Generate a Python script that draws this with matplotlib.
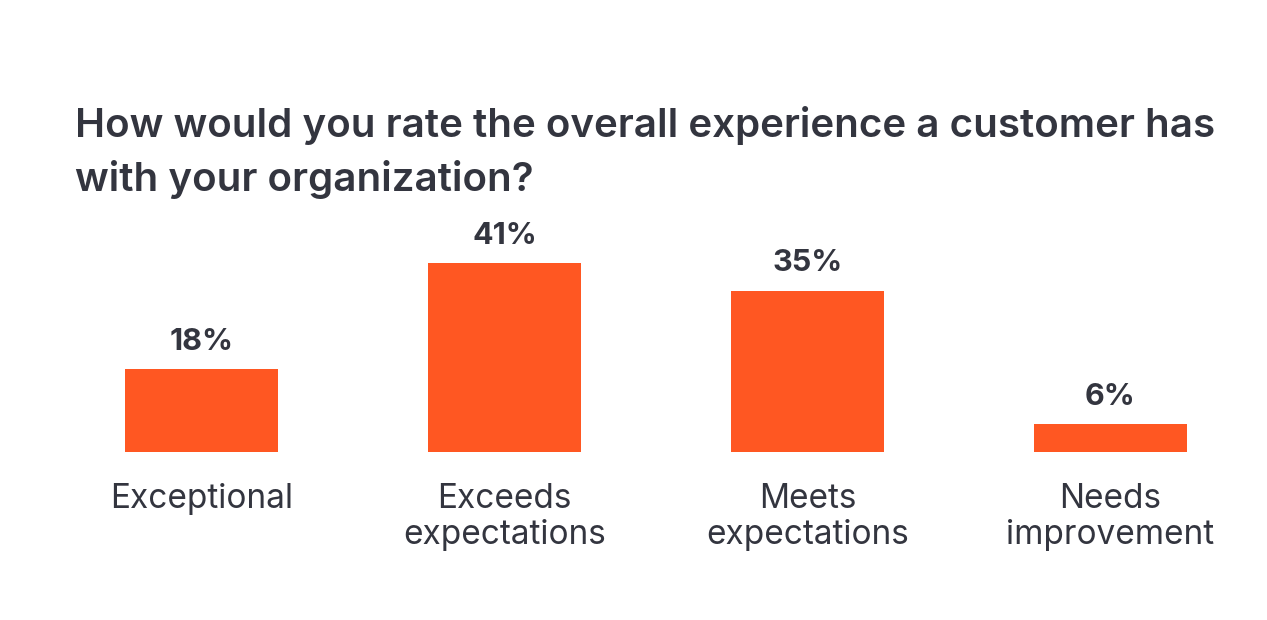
import matplotlib.pyplot as plt

# survey answers
categories = ["Exceptional", "Exceeds\nexpectations", "Meets\nexpectations", "Needs\nimprovement"]
values = [18, 41, 35, 6]
value_labels = ["18%", "41%", "35%", "6%"]

bar_color = "#FF5722"
text_color = "#33353F"

plt.rcParams['font.family'] = ['Inter', 'DejaVu Sans']

fig = plt.figure(figsize=(12.67, 6.2), dpi=100)
ax = fig.add_axes([50 / 1267, 168 / 620, 1212 / 1267, 230.5 / 620])

x = range(len(values))
bars = ax.bar(x, values, width=0.505, color=bar_color)
ax.set_xlim(-0.5, 3.5)
ax.set_ylim(0, 50)

# value labels above bars
for b, lab in zip(bars, value_labels):
    ax.annotate(lab, (b.get_x() + b.get_width() / 2, b.get_height()),
                xytext=(0, 9.5), textcoords="offset points",
                ha="center", va="bottom", fontsize=22, fontweight="bold",
                color=text_color)

# category labels below
for i, cat in enumerate(categories):
    ax.annotate(cat, (i, 0), xytext=(0, -22), textcoords="offset points",
                ha="center", va="top", fontsize=24, color=text_color,
                linespacing=1.18)

ax.axis("off")

fig.text(75 / 1267, 1 - 106 / 620,
         "How would you rate the overall experience a customer has\nwith your organization?",
         ha="left", va="top", fontsize=29, color=text_color, fontweight=600,
         linespacing=1.48)

fig.savefig("out.png", dpi=100, facecolor="white")
